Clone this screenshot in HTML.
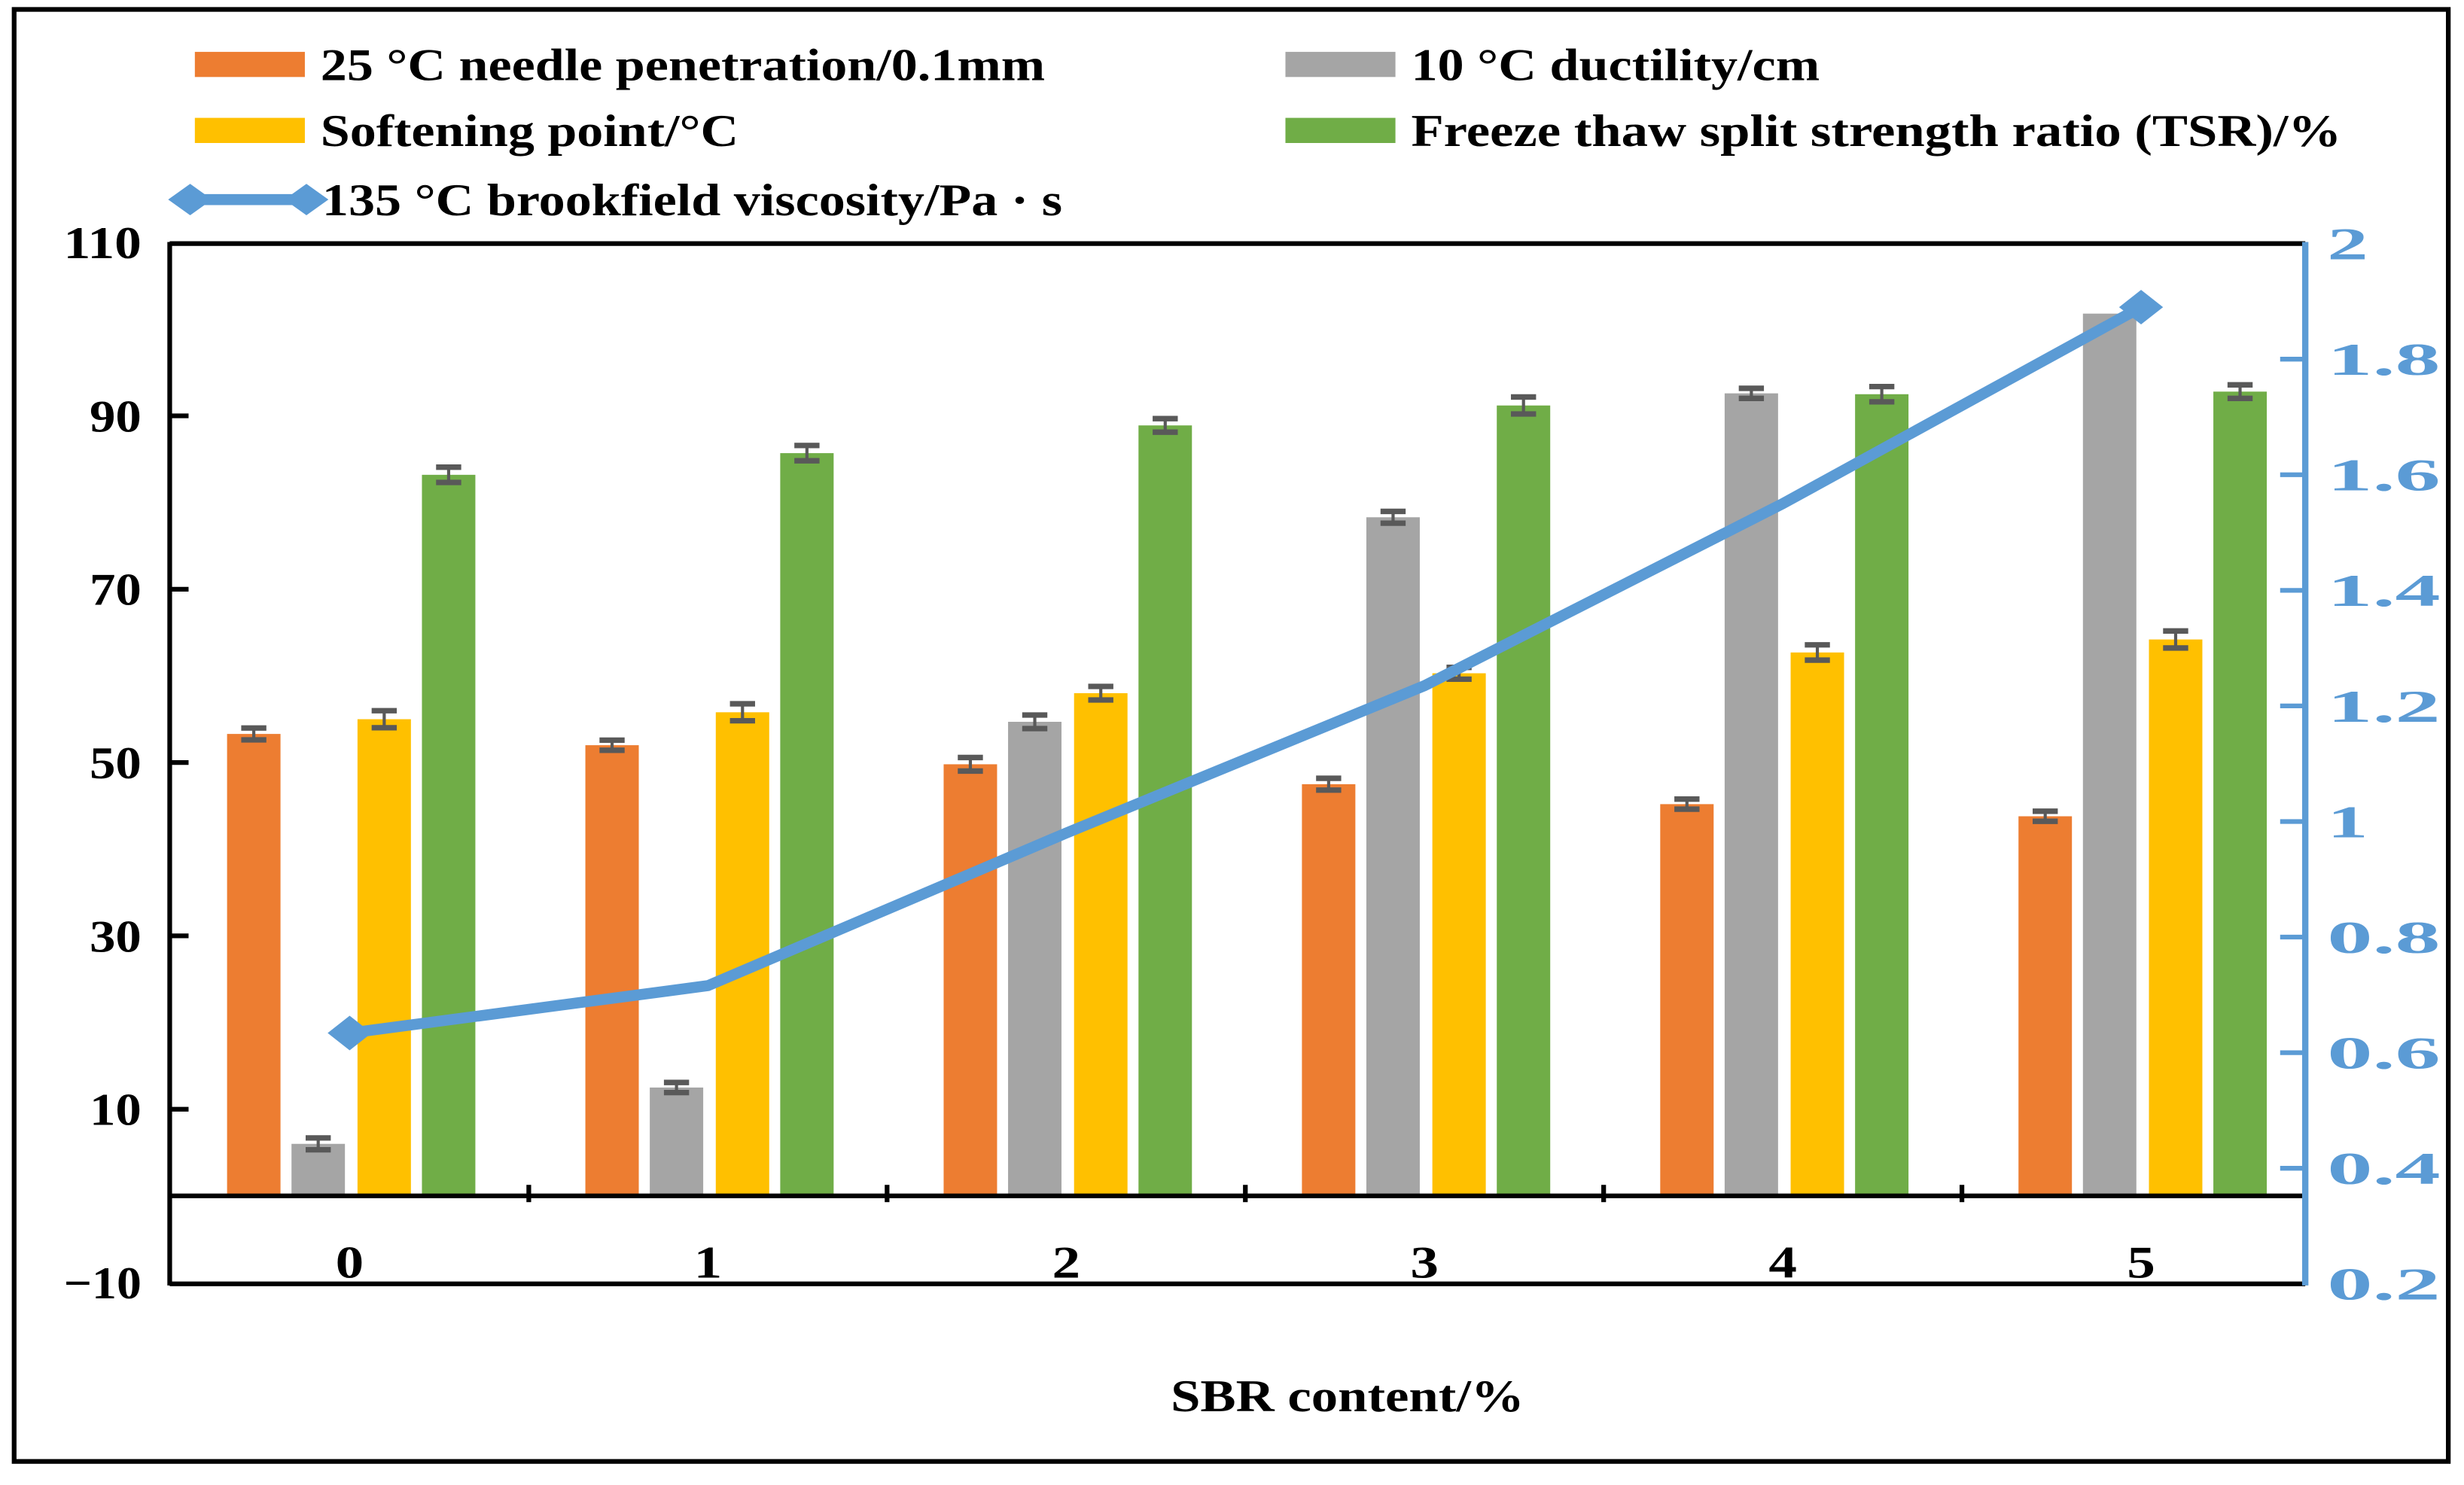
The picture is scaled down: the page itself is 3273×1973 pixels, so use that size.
<!DOCTYPE html>
<html><head><meta charset="utf-8"><style>
html,body{margin:0;padding:0;background:#fff}
svg{display:block}
text{font-family:"Liberation Serif",serif;font-weight:bold}
</style></head><body>
<svg id="chart" width="3273" height="1973" viewBox="0 0 1568 945" preserveAspectRatio="none" xmlns="http://www.w3.org/2000/svg">
<rect x="9" y="6" width="1549" height="924" fill="none" stroke="#000" stroke-width="3"/>
<g id="legend">
<rect x="124" y="33" width="70" height="16" fill="#ED7D31"/>
<text x="204" y="51" font-size="29" textLength="461" lengthAdjust="spacingAndGlyphs">25 °C needle penetration/0.1mm</text>
<rect x="818" y="33" width="70" height="16" fill="#A5A5A5"/>
<text x="898" y="51" font-size="29" textLength="260" lengthAdjust="spacingAndGlyphs">10 °C ductility/cm</text>
<rect x="124" y="75" width="70" height="16" fill="#FFC000"/>
<text x="204" y="93" font-size="29" textLength="266" lengthAdjust="spacingAndGlyphs">Softening point/°C</text>
<rect x="818" y="75" width="70" height="16" fill="#70AD47"/>
<text x="898" y="93" font-size="29" textLength="592" lengthAdjust="spacingAndGlyphs">Freeze thaw split strength ratio (TSR)/%</text>
<line x1="120" y1="127" x2="196" y2="127" stroke="#5B9BD5" stroke-width="7"/>
<path d="M107 127 L121 117 L135 127 L121 137Z M181 127 L195 117 L209 127 L195 137Z" fill="#5B9BD5"/>
<text x="205" y="137" font-size="29" textLength="471" lengthAdjust="spacingAndGlyphs">135 °C brookfield viscosity/Pa · s</text>
</g>
<g id="plot"></g>
<text x="745" y="898" font-size="29" textLength="225" lengthAdjust="spacingAndGlyphs">SBR content/%</text>
</svg>
<script>
const categories=["0","1","2","3","4","5"];
const penetration=[53.3,52.0,49.8,47.5,45.2,43.8];
const ductility=[6.0,12.5,54.7,78.3,92.6,101.8];
const softening=[55.0,55.8,58.0,60.3,62.7,64.2];
const tsr=[83.2,85.7,88.9,91.2,92.5,92.8];
const viscosity=[0.634,0.716,0.98,1.235,1.55,1.89];
const leftTicks=[110,90,70,50,30,10,-10];
const rightTicks=[2,1.8,1.6,1.4,1.2,1,0.8,0.6,0.4,0.2];
const errPen=[0.5,0.4,0.6,0.5,0.4,0.4];
const errDuc=[0.5,0.4,0.6,0.5,0.4,0];
const errSof=[0.8,0.8,0.6,0.5,0.7,0.8];
const errTsr=[0.7,0.7,0.6,0.8,0.7,0.6];

const NS="http://www.w3.org/2000/svg";
const g=document.getElementById('plot');
const L=108,R=1467,T=155,B=817;
const yL=v=>761-(v)*5.515;
const yR=v=>B-(v-0.2)/1.8*(B-T);
const step=228;
const xC=i=>222.5+step*i;
function mk(tag,a){const e=document.createElementNS(NS,tag);for(const k in a)e.setAttribute(k,a[k]);g.appendChild(e);return e;}

const series=[[penetration,errPen,"#ED7D31","penetration"],[ductility,errDuc,"#A5A5A5","ductility"],[softening,errSof,"#FFC000","softening"],[tsr,errTsr,"#70AD47","tsr"]];
const offs=[-61,-20,22,63],bw=34;
series.forEach((s,si)=>{
  s[0].forEach((v,i)=>{
    const x=xC(i)+offs[si];
    const r=mk('rect',{x:x-bw/2,y:yL(v),width:bw,height:yL(0)-yL(v),fill:s[2]});
    
    
    const e=s[1][i];
    if(e>0){
      const p=mk('path',{d:`M${x} ${yL(v+e)}V${yL(v-e)}`,stroke:'#595959','stroke-width':2,fill:'none'});
      
      
      const c=mk('path',{d:`M${x-8} ${yL(v+e)-1}H${x+8}M${x-8} ${yL(v-e)+1}H${x+8}`,stroke:'#595959','stroke-width':3.5,fill:'none'});
      
      
    }
  });
});
let a=mk('line',{x1:L,y1:T,x2:R,y2:T,stroke:'#000','stroke-width':3});

a=mk('line',{x1:L,y1:B,x2:R,y2:B,stroke:'#000','stroke-width':3});

a=mk('line',{x1:L,y1:yL(0),x2:R,y2:yL(0),stroke:'#000','stroke-width':3});

a=mk('line',{x1:L,y1:T-1,x2:L,y2:B+1,stroke:'#000','stroke-width':3});

a=mk('line',{x1:R,y1:T-1,x2:R,y2:B+1,stroke:'#5B9BD5','stroke-width':4});

leftTicks.forEach(v=>{
  const y=yL(v);
  if(v!==110&&v!==-10){const t=mk('line',{x1:L,y1:y,x2:L+12,y2:y,stroke:'#000','stroke-width':3});
  }
  const str=v<0?'\u2212'+Math.abs(v):String(v);
  const w=str.length*16.5;
  const tx=mk('text',{x:90-w,y:y+10,'font-size':29,textLength:w,lengthAdjust:'spacingAndGlyphs'});
  tx.textContent=str;
  
});
rightTicks.forEach(v=>{
  const y=yR(v);
  if(v!==2&&v!==0.2){const t=mk('line',{x1:R-16,y1:y,x2:R,y2:y,stroke:'#5B9BD5','stroke-width':3});
  }
  const str=String(v);
  const w=str.length===1?26:72;
  const tx=mk('text',{x:1481,y:y+10,'font-size':29,fill:'#5B9BD5',textLength:w,lengthAdjust:'spacingAndGlyphs'});
  tx.textContent=str;
  
});
categories.forEach((c,i)=>{
  const xb=xC(i)+step/2;
  if(i<categories.length-1){const t=mk('line',{x1:xb,y1:yL(0)-7,x2:xb,y2:yL(0)+4,stroke:'#000','stroke-width':3});
  }
  const tx=mk('text',{x:xC(i),y:813,'font-size':29,'text-anchor':'middle',textLength:18,lengthAdjust:'spacingAndGlyphs'});
  tx.textContent=c;
  
});
const pts=viscosity.map((v,i)=>[xC(i),yR(v)]);
const ln=mk('polyline',{points:pts.map(p=>p.join(',')).join(' '),fill:'none',stroke:'#5B9BD5','stroke-width':7,'stroke-linejoin':'round'});

pts.forEach((p,i)=>{
  if(i!==0&&i!==pts.length-1)return;
  const d=mk('path',{d:`M${p[0]-14} ${p[1]}L${p[0]} ${p[1]-11}L${p[0]+14} ${p[1]}L${p[0]} ${p[1]+11}Z`,fill:'#5B9BD5'});
  
});
</script>
</body></html>
